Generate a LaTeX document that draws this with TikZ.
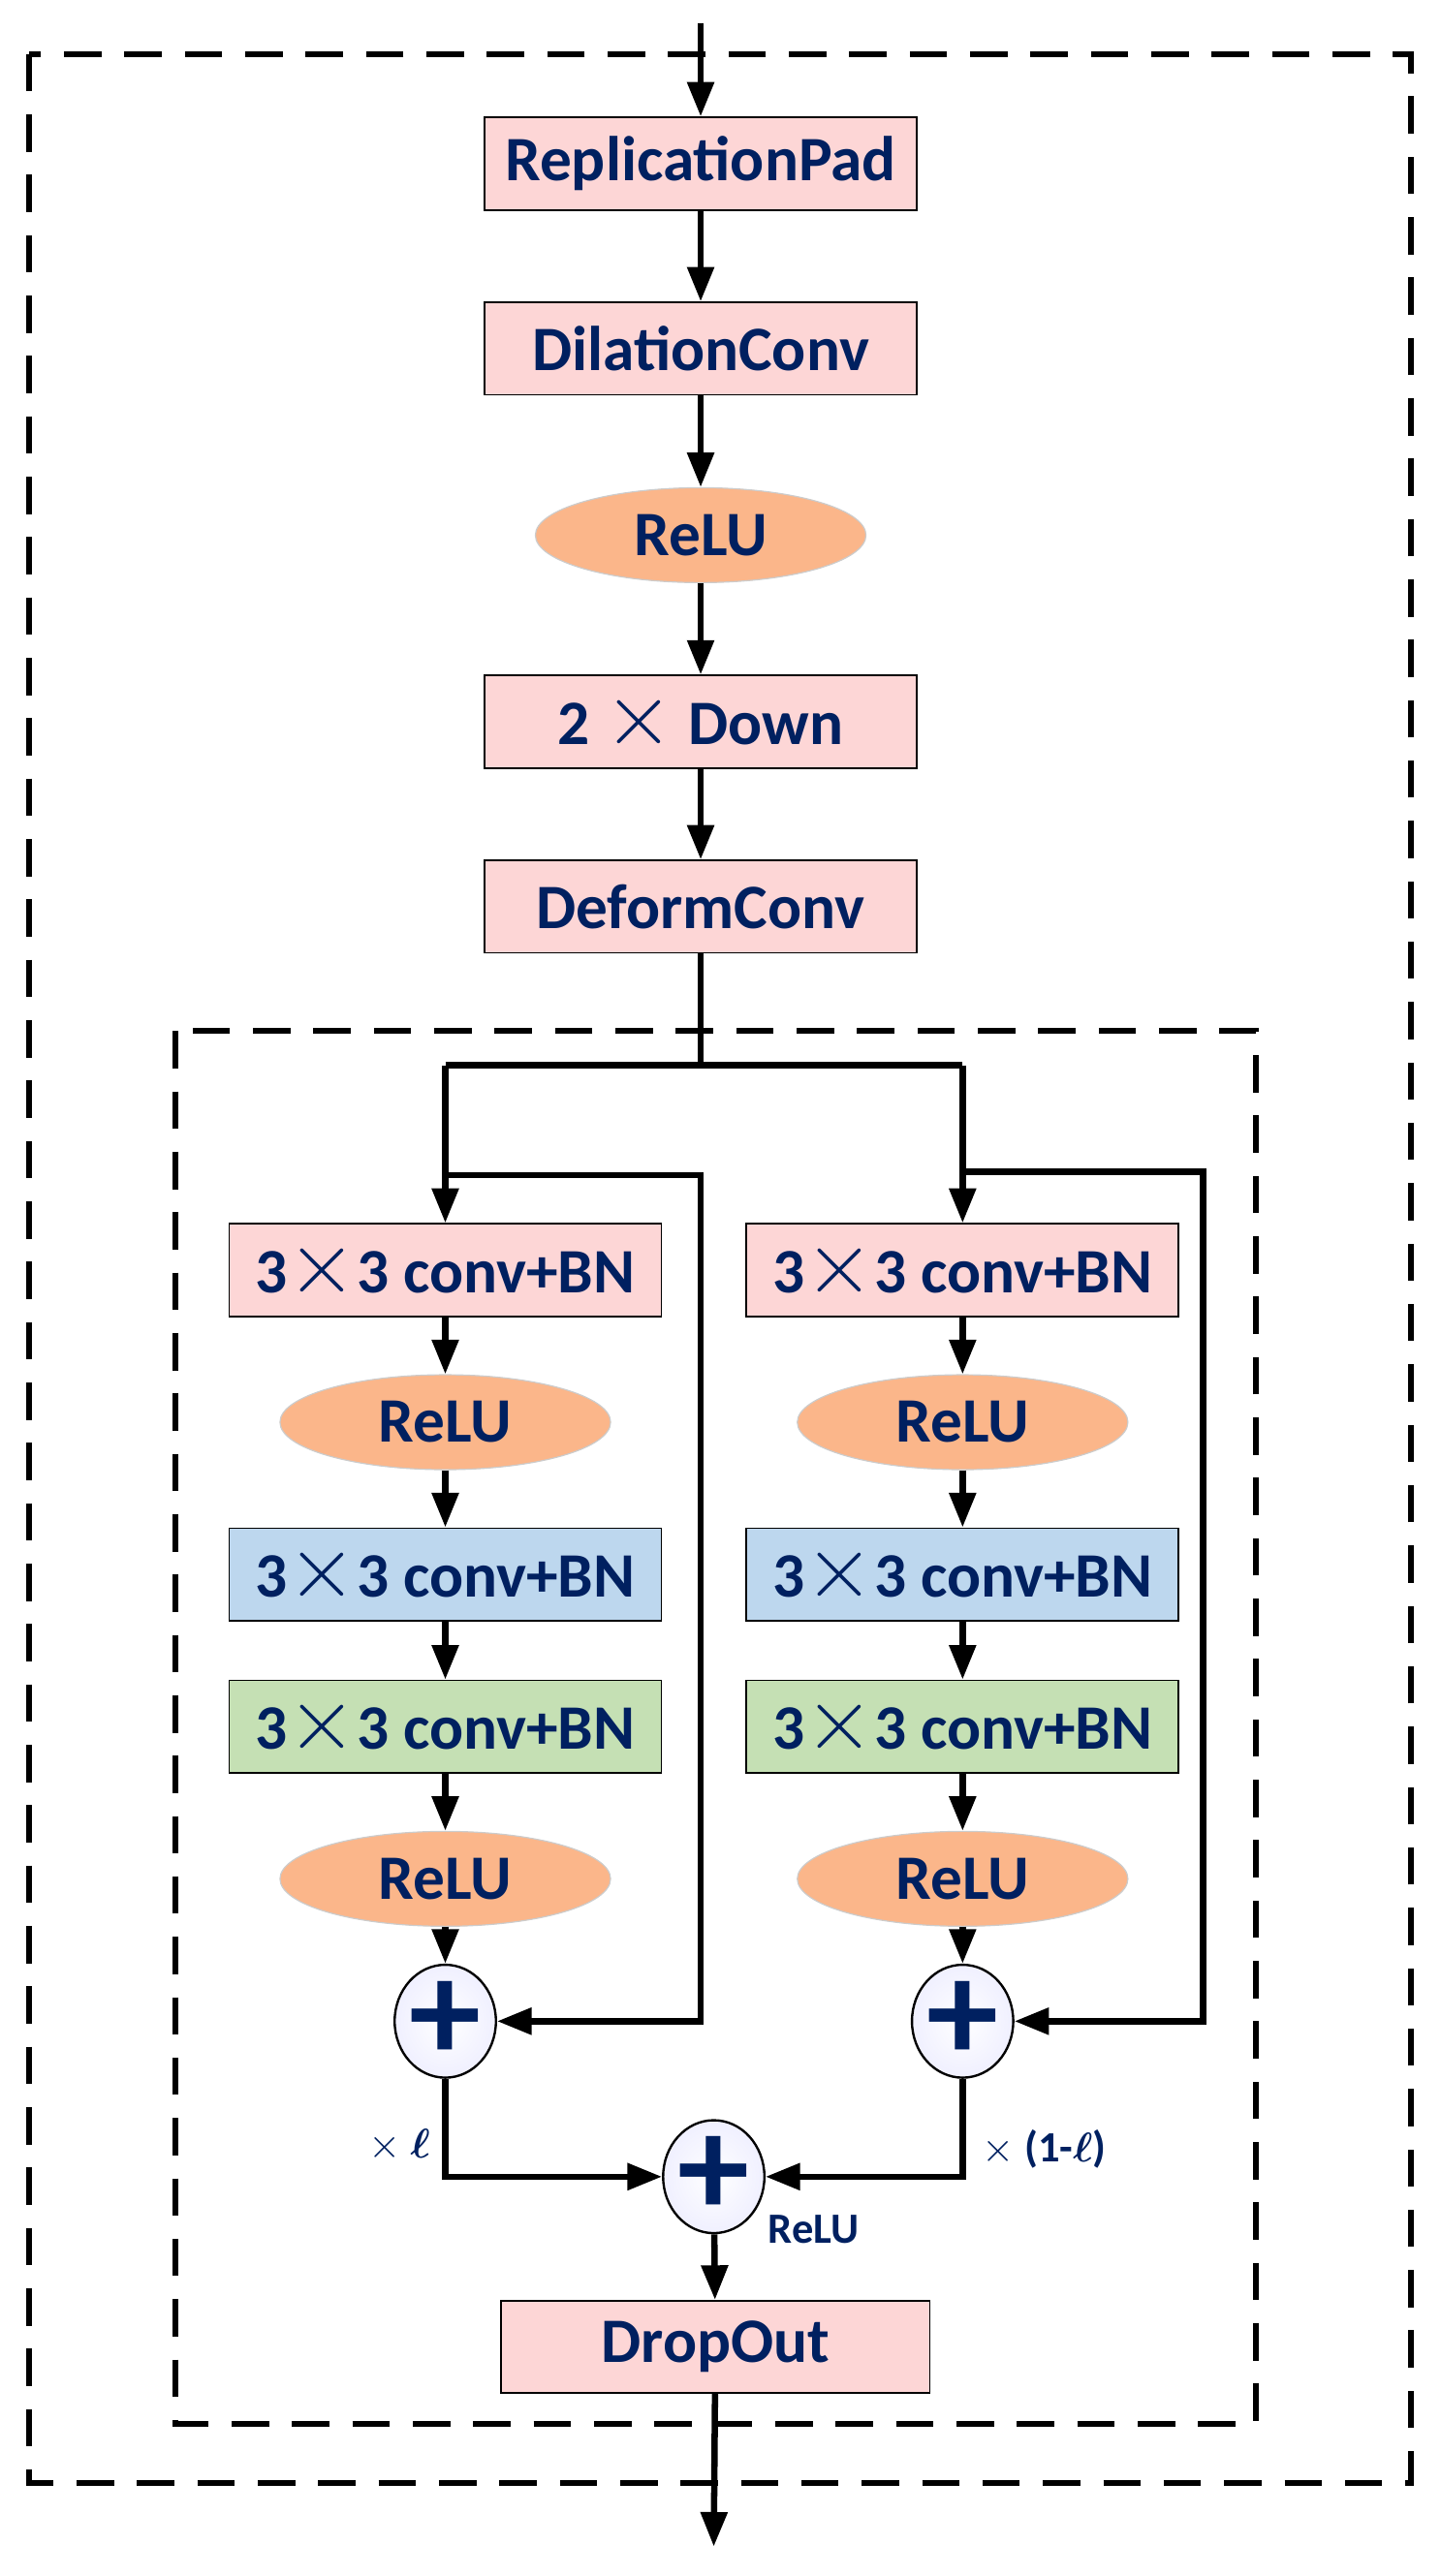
\documentclass[tikz,border=0pt]{standalone}
\usepackage{amsmath}
\usepackage{fontspec}
\setmainfont{Carlito}
\usetikzlibrary{shapes.geometric, arrows.meta}
\definecolor{txt}{RGB}{0,32,96}
\definecolor{pinkf}{RGB}{253,214,214}
\definecolor{orangef}{RGB}{251,182,138}
\definecolor{bluef}{RGB}{189,215,238}
\definecolor{greenf}{RGB}{197,224,180}
\tikzset{
  box/.style={draw, line width=0.6pt, rectangle, minimum width=5.28cm, minimum height=1.13cm,
    text=txt, font=\fontsize{22}{26}\selectfont\bfseries},
  relu/.style={ellipse, draw=black!20, fill=orangef, minimum width=4.04cm, minimum height=1.16cm,
    inner sep=0pt, text=txt, font=\fontsize{22}{26}\selectfont\bfseries},
  plus/.style={ellipse, draw, line width=0.8pt, inner color=white, outer color=blue!6,
    minimum width=1.22cm, minimum height=1.38cm, inner sep=0pt},
  arr/.style={line width=2.2pt, -{Triangle[length=12pt,width=9pt]}},
  ln/.style={line width=2.2pt},
  dashbox/.style={line width=2pt, dash pattern=on 13pt off 8pt},
  lbl/.style={text=txt, font=\fontsize{15}{17}\selectfont\bfseries},
}
\newcommand{\plussign}{\textcolor{txt}{\fontsize{50}{50}\selectfont\bfseries +}}
\newcommand{\bigx}{\scalebox{1.5}{$\times$}}
\begin{document}
\begin{tikzpicture}[x=0.02cm, y=-0.02cm]
\useasboundingbox (0,0) rectangle (880,1574);

% outer and inner frames
\draw[dashbox] (18,33) rectangle (862,1517);
\draw[dashbox] (107,630) rectangle (767,1481);

% main chain
\coordinate (in) at (428,14);
\node[box, fill=pinkf] (pad) at (428,100) {ReplicationPad};
\node[box, fill=pinkf] (dil) at (428,213) {DilationConv};
\node[relu] (r0) at (428,327) {ReLU};
\node[box, fill=pinkf] (down) at (428,441) {2 \bigx{} Down};
\node[box, fill=pinkf] (def) at (428,554) {DeformConv};

\draw[arr] (in) -- (pad);
\draw[arr] (pad) -- (dil);
\draw[arr] (dil) -- (r0);
\draw[arr] (r0) -- (down);
\draw[arr] (down) -- (def);

% left branch
\node[box, fill=pinkf] (l1) at (272,776) {3\bigx3 conv+BN};
\node[relu] (l2) at (272,869) {ReLU};
\node[box, fill=bluef] (l3) at (272,962) {3\bigx3 conv+BN};
\node[box, fill=greenf] (l4) at (272,1055) {3\bigx3 conv+BN};
\node[relu] (l5) at (272,1148) {ReLU};
\node[plus] (lp) at (272,1235) {\plussign};

% right branch
\node[box, fill=pinkf] (q1) at (588,776) {3\bigx3 conv+BN};
\node[relu] (q2) at (588,869) {ReLU};
\node[box, fill=bluef] (q3) at (588,962) {3\bigx3 conv+BN};
\node[box, fill=greenf] (q4) at (588,1055) {3\bigx3 conv+BN};
\node[relu] (q5) at (588,1148) {ReLU};
\node[plus] (qp) at (588,1235) {\plussign};

% merge and output
\node[plus] (mp) at (436,1330) {\plussign};
\node[lbl, anchor=west] (mr) at (463,1362) {ReLU};
\node[box, fill=pinkf, minimum width=5.24cm] (drop) at (437,1434) {DropOut};
\coordinate (out) at (436,1556);

% split
\coordinate (split) at (428,651);
\coordinate (sl) at (272,651);
\coordinate (sr) at (588,651);
\draw[ln] (def) -- (split);
\draw[ln] (sl) -- (sr);
\draw[arr] (sl) -- (l1);
\draw[arr] (sr) -- (q1);

% skip connections
\coordinate (ls) at (272,718);
\coordinate (lsr) at (428,718);
\coordinate (lsd) at (428,1235);
\draw[arr] (ls) -- (lsr) -- (lsd) -- (lp);
\coordinate (rs) at (588,716);
\coordinate (rsr) at (735,716);
\coordinate (rsd) at (735,1235);
\draw[arr] (rs) -- (rsr) -- (rsd) -- (qp);

\draw[arr] (l1) -- (l2);
\draw[arr] (l2) -- (l3);
\draw[arr] (l3) -- (l4);
\draw[arr] (l4) -- (l5);
\draw[arr] (l5) -- (lp);
\draw[arr] (q1) -- (q2);
\draw[arr] (q2) -- (q3);
\draw[arr] (q3) -- (q4);
\draw[arr] (q4) -- (q5);
\draw[arr] (q5) -- (qp);

\coordinate (lc) at (272,1330);
\coordinate (rc) at (588,1330);
\draw[arr] (lp) -- (lc) -- (mp);
\draw[arr] (qp) -- (rc) -- (mp);
\node[lbl] (wl) at (244,1311) {$\times$ $\boldsymbol{\ell}$};
\node[lbl, anchor=west] (wr) at (594,1313) {$\times$ (1-$\boldsymbol{\ell}$)};

\draw[arr] (mp) -- (drop);
\draw[arr] (drop) -- (out);
\end{tikzpicture}
\end{document}
